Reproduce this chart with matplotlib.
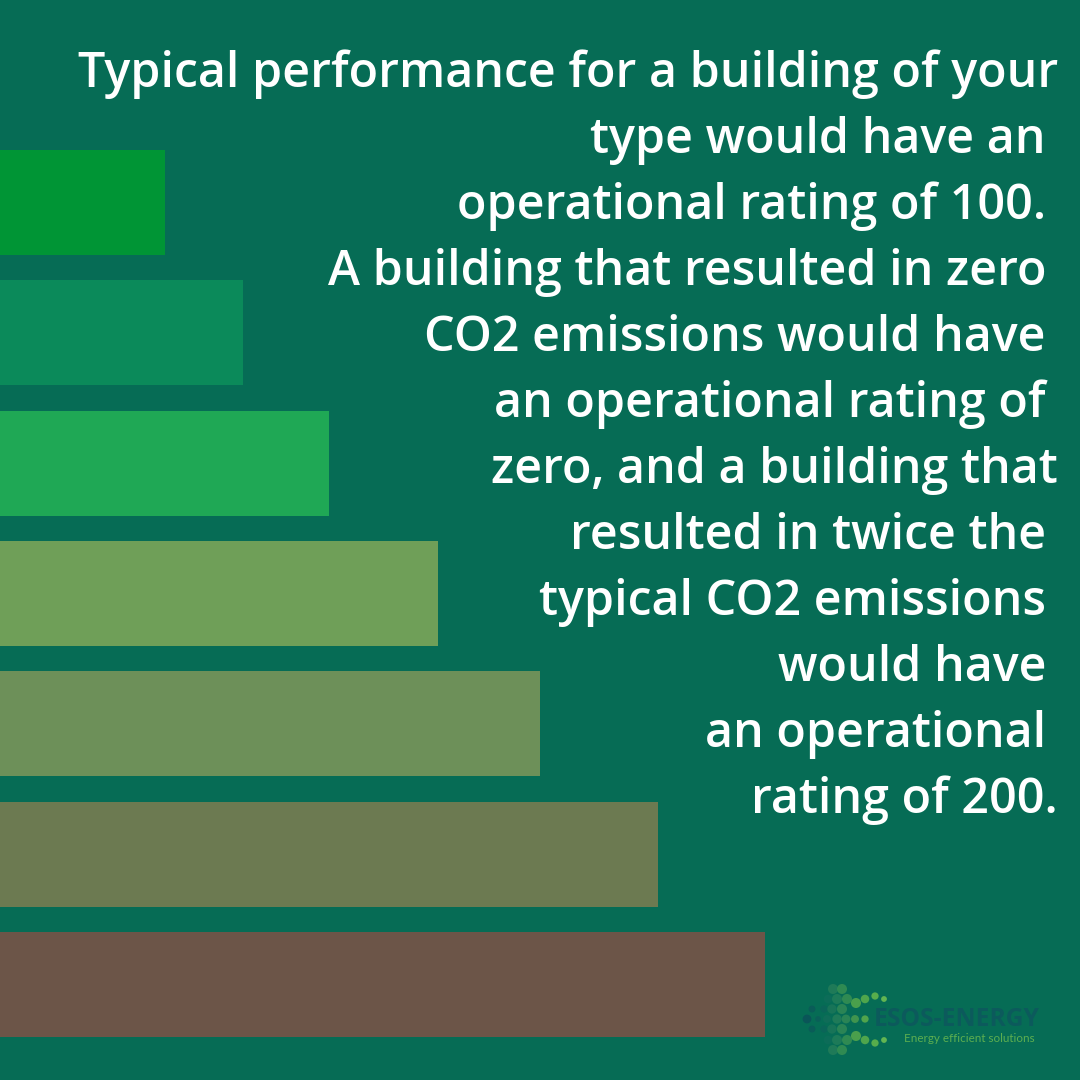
#!/usr/bin/env python3
"""Rating bars with right-aligned explanatory text and a small logo."""
import matplotlib
matplotlib.use("Agg")
import matplotlib.pyplot as plt

BG = "#066c55"

bar_widths = [165, 243, 329, 438, 540, 658, 765]
bar_tops = [150, 280, 411, 541, 671, 802, 932]
bar_height = 105
bar_colors = ["#009535", "#0b8a5a", "#1fa855", "#6f9f58", "#6d9059", "#6c7a51", "#6c5548"]

text_lines = [
    "Typical performance for a building of your",
    "type would have an",
    "operational rating of 100.",
    "A building that resulted in zero",
    "CO2 emissions would have",
    "an operational rating of",
    "zero, and a building that",
    "resulted in twice the",
    "typical CO2 emissions",
    "would have",
    "an operational",
    "rating of 200.",
]
text_right = [1058, 1046, 1046, 1046, 1046, 1046, 1058, 1046, 1046, 1046, 1046, 1058]
text_base = [87, 153, 219, 285, 351, 417, 483, 549, 615, 681, 747, 813]

# logo dots, in pixels
dot_x = [833, 842, 828, 837, 847, 856, 865, 875, 884, 824, 832, 842, 818, 827, 837, 846, 855, 865,
         812, 807, 812, 824, 832, 842, 828, 837, 847, 856, 865, 875, 884, 833, 842]
dot_y = [989, 989, 999, 999, 999, 1003, 999, 996, 999, 1009, 1009, 1009, 1019, 1019, 1019, 1019, 1019, 1019,
         1009, 1019, 1029, 1029, 1029, 1029, 1040, 1040, 1040, 1036, 1040, 1043, 1040, 1050, 1050]
dot_r = [42, 42, 30, 42, 42, 42, 30, 22, 14, 22, 36, 42, 14, 26, 36, 32, 26, 22,
         20, 32, 20, 22, 36, 42, 30, 42, 42, 42, 30, 22, 14, 42, 42]
dot_c = ["#1f7a58", "#2f8a52", "#0c6c58", "#1d7a58", "#2f8a52", "#4a9f4c", "#4fa54c", "#58ad4c", "#62b552",
         "#0a6558", "#187458", "#2a8455", "#0a5f58", "#0f6c58", "#1f7a58", "#2a8455", "#3f944e", "#50a44c",
         "#0a5c58", "#0a5558", "#0a5c58", "#0a6558", "#187458", "#2a8455", "#0c6c58", "#1d7a58", "#2f8a52",
         "#4a9f4c", "#4fa54c", "#58ad4c", "#62b552", "#1f7a58", "#2f8a52"]

fig = plt.figure(figsize=(10.8, 10.8), dpi=100, facecolor=BG)
ax = fig.add_axes([0, 0, 1, 1])
ax.set_facecolor(BG)
ax.set_xlim(0, 1080)
ax.set_ylim(1080, 0)
ax.axis("off")

ax.barh([t + bar_height / 2 for t in bar_tops], bar_widths, height=bar_height,
        color=bar_colors, linewidth=0)

for line, xr, yb in zip(text_lines, text_right, text_base):
    ax.text(xr, yb, line, ha="right", va="baseline", color="white",
            fontsize=34.8, family="Open Sans", weight="semibold")

ax.scatter(dot_x, dot_y, s=[r * 1.25 for r in dot_r], c=dot_c, linewidths=0)
ax.text(874, 1019, "ESOS-ENERGY", ha="left", va="center", color="#0c5a5c",
        fontsize=17.7, family="Open Sans", weight="bold")
ax.text(904, 1038, "Energy efficient solutions", ha="left", va="center", color="#5cae50",
        fontsize=8.4, family="Lato")

fig.savefig("out.png", dpi=100, facecolor=BG)
